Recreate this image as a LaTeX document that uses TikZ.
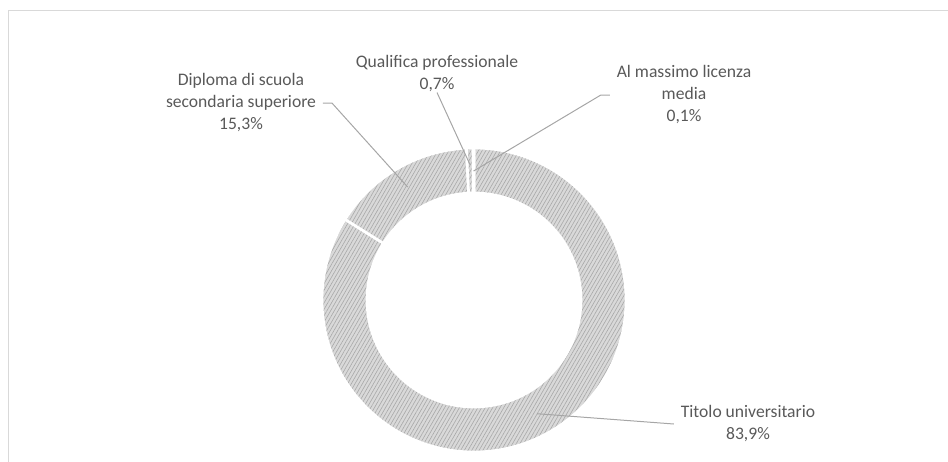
\documentclass[tikz,border=0pt]{standalone}
\usepackage{fontspec}
\setmainfont{Carlito}
\usetikzlibrary{patterns.meta}

\definecolor{txtgray}{HTML}{595959}
\definecolor{leadgray}{HTML}{A6A6A6}
\definecolor{framegray}{HTML}{D9D9D9}
\definecolor{ringgray}{HTML}{D9D9D9}
\definecolor{hatchgray}{HTML}{A8A8A8}

\tikzset{
  lbl/.style={text=txtgray, align=center, inner sep=0pt, font=\fontsize{13.2}{16.5}\selectfont},
  leader/.style={draw=leadgray, line width=0.75pt},
  hatch/.style={pattern={Lines[angle=60, distance=2.4pt, line width=0.45pt]}, pattern color=hatchgray},
  slice/.style={fill=ringgray, postaction={hatch}, postaction={draw=white, line width=2pt}}
}

\begin{document}
\begin{tikzpicture}[x=0.75pt, y=-0.75pt]
  \useasboundingbox (0,0) rectangle (948,461);
  \clip (0,0) rectangle (948,461);
  % Frame
  \draw[framegray, line width=0.75pt] (8,10) rectangle (990,500);

  % Ring
  \begin{scope}[shift={(474,300)}, yscale=-1]
    \foreach \a/\b in {90/-212.04, 147.96/92.88, 92.88/90.36, 90.36/90} {
      \path[slice] (\a:152) arc[start angle=\a, end angle=\b, radius=152]
        -- (\b:107) arc[start angle=\b, end angle=\a, radius=107] -- cycle;
    }
    \coordinate (pTit) at (-61.02:130);
    \coordinate (pDip) at (120.42:131);
    \coordinate (pQua) at (91.62:135);
    \coordinate (pMas) at (90.18:129);
  \end{scope}

  % Nodes
  \node[lbl] (lDip) at (241,103) {Diploma di scuola\\secondaria superiore\\15,3\%};
  \node[lbl] (lQua) at (437,74) {Qualifica professionale\\0,7\%};
  \node[lbl] (lMas) at (684,95) {Al massimo licenza\\media\\0,1\%};
  \node[lbl] (lTit) at (748,424) {Titolo universitario\\83,9\%};

  % Leaders
  \draw[leader] ([xshift=5pt]lDip.east) -- ++(9,0) -- (pDip);
  \draw[leader] (lQua.south) -- (pQua);
  \draw[leader] ([xshift=-5pt]lMas.west) -- ++(-9,0) -- (pMas);
  \draw[leader] ([xshift=-5pt]lTit.west) -- (pTit);
\end{tikzpicture}
\end{document}
